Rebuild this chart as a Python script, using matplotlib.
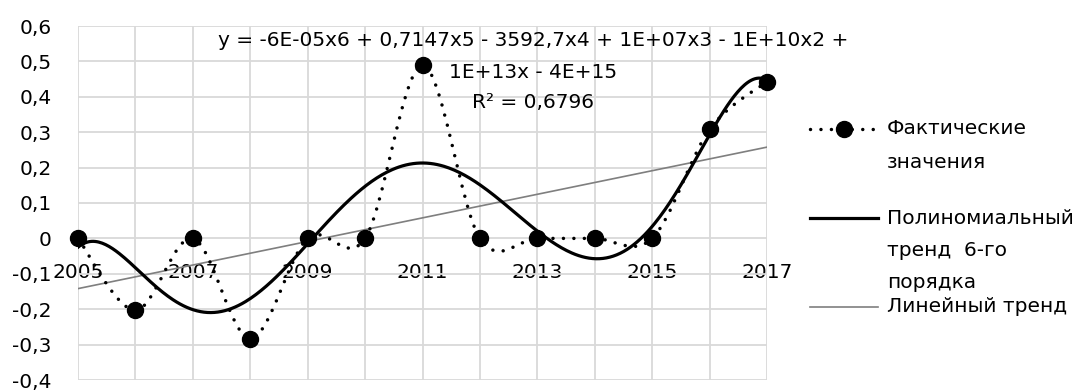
import numpy as np
import matplotlib
matplotlib.use("Agg")
import matplotlib.pyplot as plt
from matplotlib.path import Path
from matplotlib.patches import PathPatch
from matplotlib.lines import Line2D

years = [2005, 2006, 2007, 2008, 2009, 2010, 2011, 2012, 2013, 2014, 2015, 2016, 2017]
actual = [0, -0.203, 0, -0.283, 0, 0, 0.489, 0, 0, 0, 0, 0.308, 0.443]
year_labels = ["2005", "2007", "2009", "2011", "2013", "2015", "2017"]
y_ticks = [0.6, 0.5, 0.4, 0.3, 0.2, 0.1, 0, -0.1, -0.2, -0.3, -0.4]
eq_lines = ["y = -6E-05x6 + 0,7147x5 - 3592,7x4 + 1E+07x3 - 1E+10x2 +",
            "1E+13x - 4E+15",
            "R² = 0,6796"]
legend_labels = [["Фактические", "значения"],
                 ["Полиномиальный", "тренд  6-го", "порядка"],
                 ["Линейный тренд"]]

plt.rcParams['font.family'] = ['DejaVu Sans']
FS = 14.5

x = np.array(years, dtype=float)
y = np.array(actual)

fig = plt.figure(figsize=(10.92, 3.90), dpi=100)
ax = fig.add_axes([78 / 1092, 10 / 390, (767 - 78) / 1092, (380 - 26) / 390])
ax.set_xlim(2005, 2017)
ax.set_ylim(-0.4, 0.6)

# grid and axes
for s in ax.spines.values():
    s.set_visible(False)
ax.spines['bottom'].set_position(('data', 0))
ax.set_xticks(years)
ax.set_yticks(y_ticks)
ax.grid(True, color='#d9d9d9', lw=1.3)
ax.set_axisbelow(True)
ax.set_xticklabels([str(v) if str(v) in year_labels else "" for v in years])
ax.set_yticklabels([f"{v:g}".replace('.', ',') for v in y_ticks])
ax.tick_params(length=0, labelsize=FS)
ax.tick_params(axis='x', pad=18)
ax.tick_params(axis='y', pad=19)

# linear trend
lin = np.polyfit(x - 2005, y, 1)
ax.plot(x, np.polyval(lin, x - 2005), color='#7f7f7f', lw=1.2, zorder=3)

# 6th order polynomial trend
poly = np.polyfit(x - 2005, y, 6)
xs = np.linspace(2005, 2017, 400)
ax.plot(xs, np.polyval(poly, xs - 2005), color='black', lw=2.3, zorder=4)

# smoothed dotted line (Excel-style bezier)
pts = np.column_stack([x, y])
ext = np.vstack([pts[0], pts, pts[-1]])
verts = [tuple(pts[0])]
codes = [Path.MOVETO]
for i in range(len(pts) - 1):
    p0, p1, p2, p3 = ext[i], ext[i + 1], ext[i + 2], ext[i + 3]
    c1 = p1 + (p2 - p0) / 6
    c2 = p2 - (p3 - p1) / 6
    verts += [tuple(c1), tuple(c2), tuple(p2)]
    codes += [Path.CURVE4] * 3
patch = PathPatch(Path(verts, codes), fill=False, edgecolor='black', lw=2.5,
                  linestyle=(0, (0.01, 3.0)), capstyle='round', zorder=5)
ax.add_patch(patch)
ax.plot(x, y, 'o', color='black', ms=11.5, zorder=6, clip_on=False)

# trendline equation
eq_y = [40, 72, 103]
for t, py in zip(eq_lines, eq_y):
    fig.text(533 / 1092, 1 - py / 390, t, fontsize=FS, ha='center', va='center')

# legend
def fy(py):
    return 1 - py / 390

hx0, hx1, tx = 810 / 1092, 878 / 1092, 887 / 1092
fig.add_artist(Line2D([hx0, (hx0 + hx1) / 2, hx1], [fy(129)] * 3, color='black', lw=2.5,
                      linestyle=(0, (0.01, 3.0)), dash_capstyle='round',
                      marker='o', ms=11.5, markevery=[1]))
fig.add_artist(Line2D([hx0, hx1], [fy(218)] * 2, color='black', lw=2.3))
fig.add_artist(Line2D([hx0, hx1], [fy(307)] * 2, color='#7f7f7f', lw=1.2))
legend_y = [[129, 162], [218, 250, 282], [307]]
for labels, ys in zip(legend_labels, legend_y):
    for t, py in zip(labels, ys):
        fig.text(tx, fy(py), t, fontsize=FS, ha='left', va='center')

fig.savefig("out.png", dpi=100)
